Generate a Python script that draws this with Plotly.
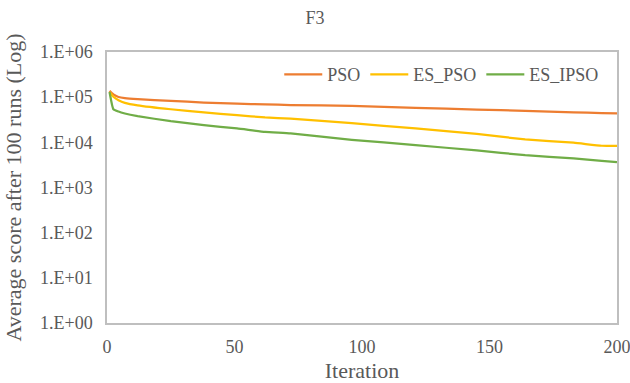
import plotly.graph_objects as go

iterations = [1, 2.5, 4.5, 7, 12, 25, 38, 51, 62, 72, 96, 121, 145, 164, 183, 194, 200]
pso =     [1.38e5, 1.15e5, 1.01e5, 9.5e4, 9.0e4, 8.3e4, 7.6e4, 7.2e4, 6.9e4, 6.7e4, 6.4e4, 5.8e4, 5.3e4, 5.0e4, 4.6e4, 4.45e4, 4.4e4]
es_pso =  [1.3e5, 1.02e5, 8.6e4, 7.5e4, 6.6e4, 5.4e4, 4.6e4, 4.0e4, 3.55e4, 3.35e4, 2.66e4, 2.03e4, 1.53e4, 1.16e4, 9.8e3, 8.4e3, 8.4e3]
es_ipso = [1.3e5, 5.4e4, 4.8e4, 4.35e4, 3.8e4, 2.94e4, 2.4e4, 2.03e4, 1.7e4, 1.57e4, 1.14e4, 8.7e3, 6.6e3, 5.2e3, 4.4e3, 3.9e3, 3.65e3]

series_names = ["PSO", "ES_PSO", "ES_IPSO"]
series_colors = ["#ED7D31", "#FFC000", "#70AD47"]

y_tickvals = [1, 10, 100, 1e3, 1e4, 1e5, 1e6]
y_ticktext = ["1.E+00", "1.E+01", "1.E+02", "1.E+03", "1.E+04", "1.E+05", "1.E+06"]
x_tickvals = [0, 50, 100, 150, 200]

font_family = "Liberation Serif"
text_color = "#595959"

fig = go.Figure()
for name, vals, col in zip(series_names, [pso, es_pso, es_ipso], series_colors):
    fig.add_trace(go.Scatter(x=iterations, y=vals, mode="lines", name=name,
                             line=dict(color=col, width=2.25, shape="spline", smoothing=0.4)))

fig.update_layout(
    width=630, height=383,
    margin=dict(l=107, r=13, t=52, b=60),
    paper_bgcolor="white", plot_bgcolor="white",
    font=dict(family=font_family, size=18, color=text_color),
    title=dict(text="F3", x=0.5, xanchor="center", y=0.955, yanchor="middle",
               font=dict(family=font_family, size=18, color=text_color)),
    legend=dict(orientation="h", x=0.975, xanchor="right", y=0.985, yanchor="top",
                bgcolor="rgba(0,0,0,0)", font=dict(family=font_family, size=18, color=text_color),
                itemwidth=38, traceorder="normal"),
    showlegend=True,
)
fig.update_xaxes(range=[0, 200], tickvals=x_tickvals, showgrid=False, zeroline=False,
                 showline=True, linecolor="#BFBFBF", linewidth=1.5, mirror=True,
                 ticks="", ticklabelstandoff=7, automargin=False, ticklabeloverflow="allow",
                 title=dict(text="Iteration", standoff=11))
fig.update_yaxes(type="log", range=[0, 6], tickvals=y_tickvals, ticktext=y_ticktext,
                 showgrid=False, zeroline=False, showline=True, linecolor="#BFBFBF",
                 linewidth=1.5, mirror=True, ticks="", automargin=False,
                 ticklabelstandoff=9,
                 title=dict(text="Average score after 100 runs (Log)", standoff=12))

fig.write_html("out.html")
